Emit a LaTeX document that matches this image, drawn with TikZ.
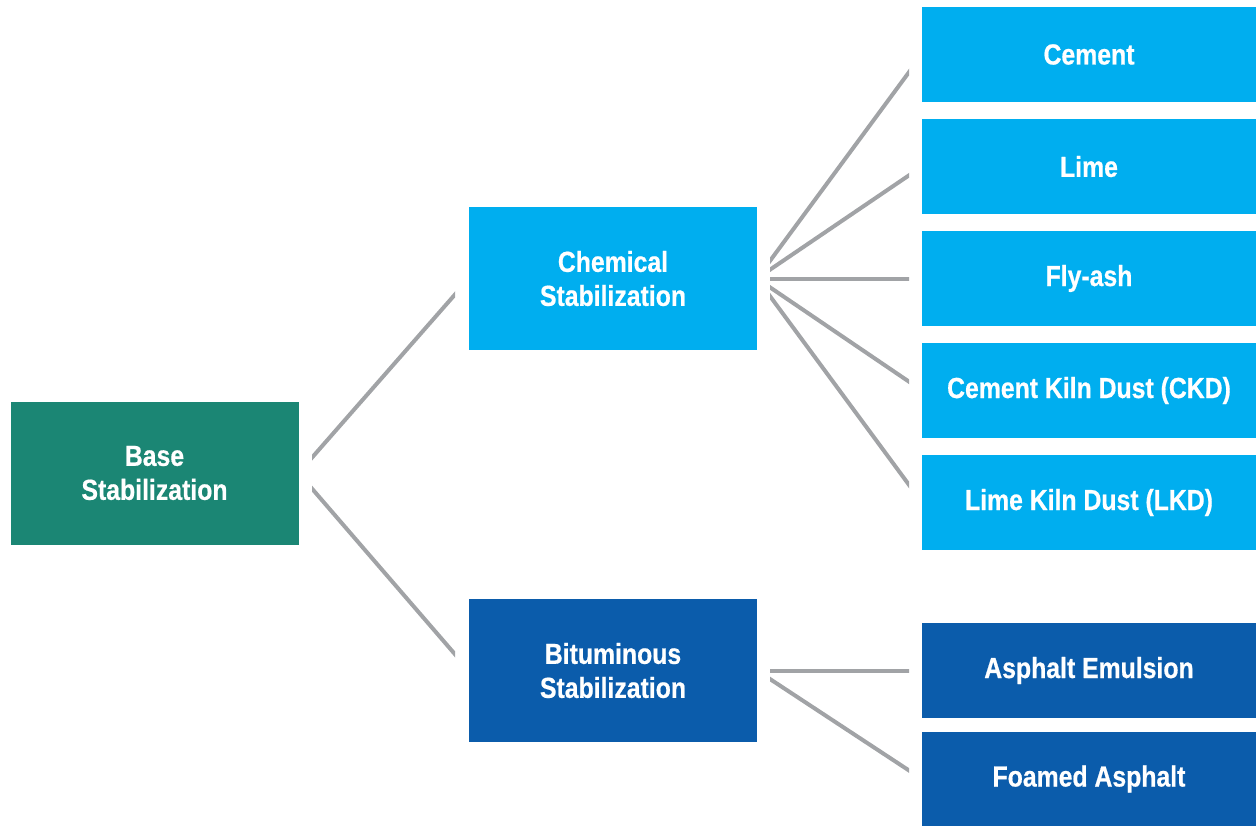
\documentclass[tikz,border=0pt]{standalone}
\usepackage{fontspec}
\setmainfont{Liberation Sans}[FakeStretch=0.855, BoldFeatures={FakeBold=0.6}]
\usepackage{xcolor}
\usepackage{tikz}
\definecolor{baseteal}{HTML}{1B8674}
\definecolor{chemcyan}{HTML}{00AEEF}
\definecolor{bitublue}{HTML}{0B5CAB}
\definecolor{linkgray}{HTML}{A1A3A6}
\tikzset{
  box/.style={
    rectangle,
    inner sep=0pt,
    outer sep=0pt,
    text=white,
    align=center,
    font=\fontsize{29}{34}\selectfont\bfseries
  },
  midbox/.style={box, minimum width=288pt, minimum height=143pt},
  leafbox/.style={box, minimum width=334pt, minimum height=95pt},
  link/.style={draw=linkgray, line width=4pt}
}

\begin{document}
\begin{tikzpicture}[x=1pt, y=-1pt]
\newcommand\XMid{613}
\newcommand\XLeaf{1089}
\useasboundingbox (0,0) rectangle (1256,825);
\node[midbox, fill=baseteal] (base) at (154.5,473) {Base\\Stabilization};
\node[midbox, fill=chemcyan] (chem) at (\XMid,278.5) {Chemical\\Stabilization};
\node[midbox, fill=bitublue] (bitu) at (\XMid,670.5) {Bituminous\\Stabilization};
\node[leafbox, fill=chemcyan] (cement) at (\XLeaf,54.5) {Cement};
\node[leafbox, fill=chemcyan] (lime) at (\XLeaf,166.5) {Lime};
\node[leafbox, fill=chemcyan] (flyash) at (\XLeaf,278.5) {Fly-ash};
\node[leafbox, fill=chemcyan] (ckd) at (\XLeaf,390.5) {Cement Kiln Dust (CKD)};
\node[leafbox, fill=chemcyan] (lkd) at (\XLeaf,502.5) {Lime Kiln Dust (LKD)};
\node[leafbox, fill=bitublue] (emulsion) at (\XLeaf,670.5) {Asphalt Emulsion};
\node[leafbox, fill=bitublue] (foamed) at (\XLeaf,779) {Foamed Asphalt};

% connectors leave a gap at both ends
\begin{scope}
\clip (312,0) rectangle (455,825) (770,0) rectangle (909,825);
\path (base.east) edge[link] (chem.west)
                  edge[link] (bitu.west)
      (chem.east) edge[link] (cement.west)
                  edge[link] (lime.west)
                  edge[link] (flyash.west)
                  edge[link] (ckd.west)
                  edge[link] (lkd.west)
      (bitu.east) edge[link] (emulsion.west)
                  edge[link] (foamed.west);
\end{scope}
\end{tikzpicture}
\end{document}
